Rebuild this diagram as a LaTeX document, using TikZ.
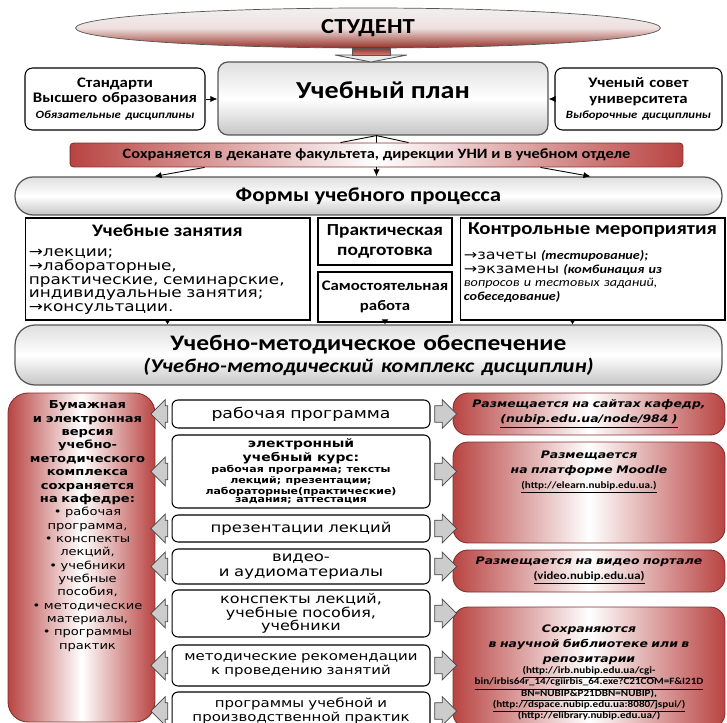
\documentclass[tikz,border=0pt]{standalone}
\usepackage{fontspec}
\setmainfont[FakeStretch=1.15]{Carlito}
\newfontfamily\verd[FakeStretch=1.2]{DejaVu Sans}
\usetikzlibrary{shapes.geometric,shapes.arrows,arrows.meta,calc,positioning}
\definecolor{cred}{RGB}{184,68,66}
\definecolor{dred}{RGB}{150,50,40}
\definecolor{bord}{RGB}{85,85,85}
\newcommand\fsz[2]{\fontsize{#1}{#2}\selectfont}
\tikzset{
  box/.style={draw=black, fill=white, line width=0.6pt, inner sep=0pt},
  greybox/.style={draw=bord, line width=0.7pt, inner sep=0pt, top color=gray!25, bottom color=gray!45, middle color=white},
  redbox/.style={draw=cred!70!black, line width=0.5pt, inner sep=0pt, left color=cred, right color=cred, middle color=white},
  mbox/.style={box, rounded corners=0.12cm, minimum width=5.16cm, text width=5cm, align=center, font=\verd\fsz{7.8}{8.4}},
  rbox/.style={redbox, rounded corners=0.3cm, minimum width=5.44cm},
  rtxt/.style={text width=5.3cm, align=center, inner sep=0pt, font=\verd\bfseries\itshape\fsz{5.9}{8.5}},
  garrow/.style={single arrow, draw=gray!55!black, fill=gray!40, inner xsep=0pt, inner ysep=4.5pt, single arrow head extend=3.5pt, single arrow head indent=0pt},
  arr/.style={-{Latex[length=4pt,width=3.5pt]}, line width=0.5pt},
  sarr/.style={-{Latex[length=2.8pt,width=4pt]}, line width=0.5pt}
}
\begin{document}
\begin{tikzpicture}[x=0.02cm, y=-0.02cm]
\useasboundingbox (0,0) rectangle (727,723);
\clip (0,0) rectangle (727,723);
% student and plan
\node[ellipse, draw=bord, top color=gray!12, bottom color=dred, middle color=white!85!dred, minimum width=11.7cm, minimum height=0.8cm, inner sep=0pt, font=\bfseries\fsz{12.2}{14}] (student) at (368,28) {СТУДЕНТ};
\node[greybox, rounded corners=0.2cm, minimum width=6.6cm, minimum height=1.46cm, text height=0.3cm, text depth=0.3cm, font=\bfseries\fsz{13.9}{16}] (plan) at (383,98.5) {Учебный план};
\coordinate (dn) at (371,55);
\filldraw[draw=bord, fill=gray!15, line width=0.5pt] ($(dn)+(-36,0)$) -- ($(dn)+(36,0)$) -- ($(dn)+(0,7)$) -- cycle;
\filldraw[draw=bord, top color=dred, bottom color=cred!70, line width=0.5pt] ($(dn)+(-19,-7)$) rectangle ($(dn)+(19,0)$);
\node[box, rounded corners=0.15cm, minimum width=3.6cm, minimum height=1.24cm, text width=3.5cm, align=center, font=\bfseries\fsz{8.3}{9}] (std) at (115,99) {Стандарти\\Высшего образования\\{\itshape\fsz{6.3}{9}Обязательные дисциплины}};
\node[box, rounded corners=0.15cm, minimum width=3.34cm, minimum height=1.24cm, text width=3.2cm, align=center, font=\bfseries\fsz{8.3}{9}] (sov) at (638.5,99) {Ученый совет\\университета\\{\itshape\fsz{6.3}{9}Выборочные дисциплины}};
\draw[arr] (std.east) -- (std.east -| plan.west);
\draw[arr] (sov.west) -- (sov.west -| plan.east);
% storage bar and forms
\node[redbox, rounded corners=2pt, minimum width=12.26cm, minimum height=0.48cm, font=\bfseries\fsz{8.1}{9}] (bar) at (376.5,155) {Сохраняется в деканате факультета, дирекции УНИ и в учебном отделе};
\coordinate (apex) at (bar.north |- plan.south);
\draw[line width=0.5pt] (apex) -- (bar.north) (apex) -- ($(bar.north)+(-36,0)$) (apex) -- ($(bar.north)+(32,0)$);
\node[greybox, rounded corners=0.36cm, minimum width=14.14cm, minimum height=0.76cm, font=\bfseries\fsz{11.3}{13}] (forms) at (368.5,196) {Формы учебного процесса};
\draw[arr] ($(bar.south)+(-172,0)$) -- ($(forms.north)+(-214,0)$);
\draw[arr] (bar.south) -- (bar.south |- forms.north);
\draw[arr] ($(bar.south)+(164,0)$) -- ($(forms.north)+(222,0)$);
% columns
\node[box, minimum width=5.7cm, minimum height=2.04cm] (zan) at (167.5,269) {};
\node[font=\bfseries\fsz{10}{12}, inner sep=0pt] (zanT) at ($(zan.north)+(0,13)$) {Учебные занятия};
\node[anchor=north west, text width=5.5cm, align=left, inner sep=0pt, font=\verd\fsz{8}{7.8}] (zanL) at ($(zan.north west)+(4,31)$) {→лекции;\\→лабораторные,\\практические, семинарские,\\индивидуальные занятия;\\→консультации.};
\node[box, minimum width=2.68cm, minimum height=0.94cm, text width=2.64cm, align=center, font=\bfseries\fsz{9.6}{11.5}] (prak) at (385,241.5) {Практическая\\подготовка};
\node[box, minimum width=2.68cm, minimum height=1cm, text width=2.66cm, align=center, font=\bfseries\fsz{8.3}{11}] (sam) at (385,297) {Самостоятельная\\работа};
\node[box, minimum width=5.3cm, minimum height=2.04cm] (kontr) at (592.5,269) {};
\node[font=\bfseries\fsz{10.3}{12}, inner sep=0pt] (kontrT) at ($(kontr.north)+(0,13)$) {Контрольные мероприятия};
\node[anchor=north west, text width=5.1cm, align=left, inner sep=0pt, font=\fsz{7}{7.6}] (kontrL) at ($(kontr.north west)+(4,33)$) {{\verd\fsz{7.6}{7.6}→зачеты} {\bfseries\itshape(тестирование);}\\{\verd\fsz{7.6}{7.6}→экзамены} {\bfseries\itshape(комбинация из}\\{\itshape вопросов и тестовых заданий,}\\{\bfseries\itshape собеседование)}};
% support
\node[greybox, rounded corners=0.4cm, minimum width=14.14cm, minimum height=1.2cm, text width=13cm, align=center, font=\bfseries\fsz{12.6}{12.5}] (umo) at (368.5,355) {Учебно-методическое обеспечение\\{\itshape\fsz{11.1}{12.5}(Учебно-методический комплекс дисциплин)}};
\draw[sarr] (zan.south) -- (zan.south |- umo.north);
\draw[sarr] (sam.south) -- (sam.south |- umo.north);
\draw[sarr] ($(kontr.south)+(-20,0)$) -- ($(kontr.south |- umo.north)+(-20,0)$);
% department storage
\node[redbox, rounded corners=0.4cm, minimum width=2.94cm, minimum height=6.58cm] (leftred) at (81.5,557.5) {};
\node[anchor=north, text width=2.75cm, align=center, inner sep=0pt, font=\verd\fsz{6.2}{7.6}] (leftT) at ($(leftred.north)+(6,8)$) {{\bfseries Бумажная\\и электронная\\версия\\учебно-\\методического\\комплекса\\сохраняется\\на кафедре:}\\• рабочая\\программа,\\• конспекты\\лекций,\\• учебники\\учебные\\пособия,\\• методические\\материалы,\\• программы\\практик};
% materials
\node[mbox, minimum height=0.56cm, font=\verd\fsz{8.2}{8.5}] (m1) at (301,414) {рабочая программа};
\node[mbox, minimum height=1.46cm] (m2) at (301,471.5) {{\bfseries\fsz{6.6}{6.3}электронный\\учебный курс:\par}{\bfseries\fsz{5.2}{4.9}рабочая программа; тексты\\лекций; презентации;\\лабораторные(практические)\\задания; аттестация\par}};
\node[mbox, minimum height=0.54cm] (m3) at (301,528.5) {презентации лекций};
\node[mbox, minimum height=0.7cm] (m4) at (301,566.5) {видео-\\и аудиоматериалы};
\node[mbox, minimum height=0.94cm, font=\verd\fsz{7.6}{7.8}] (m5) at (301,613.5) {конспекты лекций,\\учебные пособия,\\учебники};
\node[mbox, minimum height=0.82cm, font=\verd\fsz{7.1}{8}] (m6) at (301,665.5) {методические рекомендации\\к проведению занятий};
\node[mbox, minimum height=0.76cm, font=\verd\fsz{7.1}{8}] (m7) at (301,711) {программы учебной и\\производственной практик};
% places
\node[rbox, rtxt, minimum height=0.84cm] (r1) at (589,414) {Размещается на сайтах кафедр,\\\underline{(nubip.edu.ua/node/984 )}};
\node[rbox, minimum height=2.02cm] (r2) at (589,492.5) {};
\node[rtxt, anchor=north] (r2T) at ($(r2.north)+(0,9)$) {Размещается\\на платформе Moodle\\{\rmfamily\upshape\fsz{5.5}{8.5}\underline{(http://elearn.nubip.edu.ua.)}}};
\node[rbox, rtxt, minimum height=0.84cm] (r3) at (589,571) {Размещается на видео портале\\{\rmfamily\upshape\fsz{6.3}{8.5}\underline{(video.nubip.edu.ua)}}};
\node[rbox, minimum height=2.42cm] (r4) at (589,667.5) {};
\node[rtxt, anchor=north] (r4T) at ($(r4.north)+(0,18)$) {Сохраняются\\в научной библиотеке или в\\репозитарии\par{\rmfamily\upshape\fsz{5.5}{6.4}\lineskiplimit=-10pt\underline{(http://irb.nubip.edu.ua/cgi-}\\\underline{bin/irbis64r\_14/cgiirbis\_64.exe?C21COM=F\&I21D}\\\underline{BN=NUBIP\&P21DBN=NUBIP),}\\\underline{(http://dspace.nubip.edu.ua:8080/jspui/)}\\(http://elibrary.nubip.edu.ua/)\par}};
% block arrows
\foreach \m in {m1,m2,m3,m4,m5,m6,m7}{
  \node[garrow, shape border rotate=180, minimum height=0.34cm] (la\m) at ($(leftred.east |- \m)!.5!(\m.west)$) {};
  \node[garrow, minimum height=0.44cm] (ra\m) at ($(\m.east)!.5!(r1.west |- \m)$) {};
}
\end{tikzpicture}
\end{document}
